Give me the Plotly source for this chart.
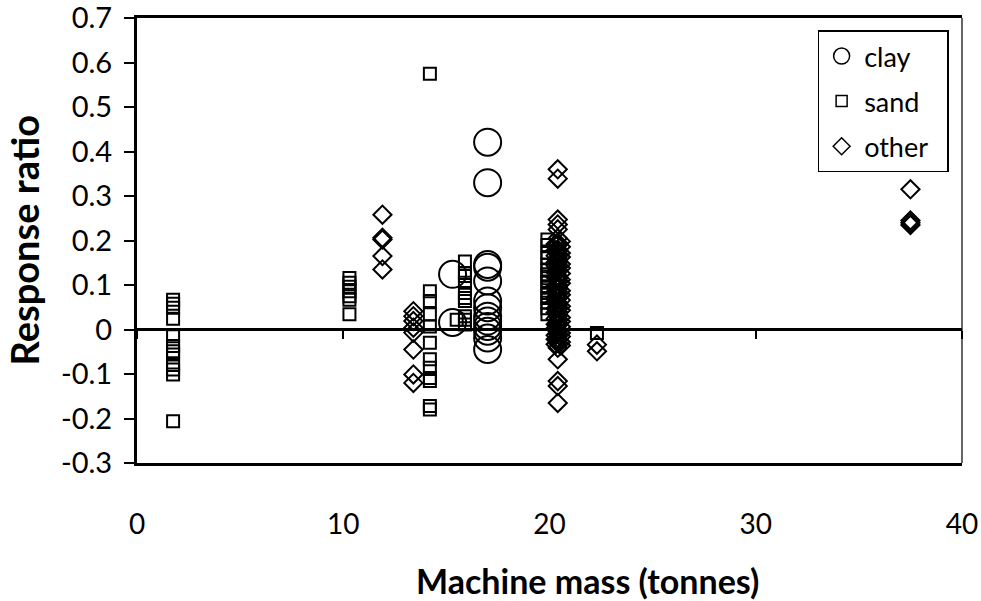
import plotly.graph_objects as go

# ---- data ----
clay_x = [15.3, 15.3] + [17.0] * 13
clay_y = [0.124, 0.016,
          0.421, 0.330, 0.146, 0.140, 0.109, 0.064, 0.049, 0.030, 0.019, 0.007, -0.004, -0.019, -0.045]

sand_x = ([1.75] * 12 + [10.3] * 7 + [14.2] * 12 + [15.5] + [15.9] * 10 + [19.9] * 15 + [22.3])
sand_y = ([0.067, 0.058, 0.049, 0.024, -0.015, -0.037, -0.049, -0.056, -0.080, -0.090, -0.101, -0.206]
          + [0.116, 0.105, 0.096, 0.086, 0.075, 0.067, 0.034]
          + [0.575, 0.086, 0.064, 0.034, 0.007, -0.030, -0.067, -0.086, -0.109, -0.116, -0.172, -0.180]
          + [0.022]
          + [0.153, 0.127, 0.120, 0.105, 0.082, 0.071, 0.064, 0.030, 0.022, 0.011]
          + [0.202, 0.190, 0.172, 0.160, 0.146, 0.135, 0.124, 0.115, 0.105, 0.094, 0.082, 0.071, 0.060, 0.048, 0.034]
          + [-0.008])

other_dense_a = [0.205, 0.195, 0.19, 0.18, 0.175, 0.17, 0.16, 0.155, 0.15, 0.14, 0.135, 0.13, 0.12,
                 0.115, 0.11, 0.10, 0.095, 0.09, 0.08, 0.075, 0.07, 0.06, 0.055, 0.05, 0.04, 0.035,
                 0.03, 0.02, 0.015, 0.01, 0.0, -0.005, -0.01, -0.02, -0.025, -0.03]
other_dense_b = [0.198, 0.186, 0.172, 0.163, 0.147, 0.138, 0.126, 0.112, 0.104, 0.087, 0.078,
                 0.066, 0.052, 0.043, 0.027, 0.018, 0.006, -0.008, -0.016, -0.028, -0.036]
other_dense_c = [0.192, 0.178, 0.166, 0.151, 0.143, 0.128, 0.117, 0.098, 0.085, 0.072, 0.063,
                 0.047, 0.038, 0.024, 0.012, 0.003, -0.013, -0.022, -0.033]
other_y = ([0.258, 0.206, 0.202, 0.165, 0.135]
           + [0.041, 0.030, 0.019, 0.004, -0.007, -0.045, -0.101, -0.120]
           + [0.360, 0.339, 0.247, 0.236, 0.225] + other_dense_a + [-0.041, -0.067, -0.116, -0.127, -0.165]
           + other_dense_b + other_dense_c
           + [-0.034, -0.049]
           + [0.315, 0.245, 0.240, 0.235])
other_x = ([11.9] * 5 + [13.4] * 8 + [20.4] * (5 + len(other_dense_a) + 5) + [20.55] * len(other_dense_b)
           + [20.3] * len(other_dense_c) + [22.3] * 2 + [37.5] * 4)

x_ticks = [0, 10, 20, 30, 40]
y_ticks = [-0.3, -0.2, -0.1, 0, 0.1, 0.2, 0.3, 0.4, 0.5, 0.6, 0.7]
y_tick_text = ["-0.3", "-0.2", "-0.1", "0", "0.1", "0.2", "0.3", "0.4", "0.5", "0.6", "0.7"]
legend_names = ["clay", "sand", "other"]

FONT = "Lato, sans-serif"

fig = go.Figure()

def mk(symbol, size):
    return dict(symbol=symbol, size=size, color="black",
                line=dict(color="black", width=2))

fig.add_trace(go.Scatter(x=clay_x, y=clay_y, mode="markers", marker=mk("circle-open", 27),
                         showlegend=False, cliponaxis=False))
fig.add_trace(go.Scatter(x=sand_x, y=sand_y, mode="markers", marker=mk("square-open", 12),
                         showlegend=False, cliponaxis=False))
fig.add_trace(go.Scatter(x=other_x, y=other_y, mode="markers", marker=mk("diamond-open", 14),
                         showlegend=False, cliponaxis=False))

# legend entries
for name, sym, sz in zip(legend_names, ["circle-open", "square-open", "diamond-open"], [16, 11, 13]):
    fig.add_trace(go.Scatter(x=[None], y=[None], mode="markers", name=name + "\u00a0\u00a0",
                             legendgroup=name,
                             marker=dict(symbol=sym, size=sz, color="black",
                                         line=dict(color="black", width=1.5))))

# helper trace for the secondary x axis (ticks on the zero line)
fig.add_trace(go.Scatter(x=[None], y=[None], xaxis="x2", showlegend=False, hoverinfo="skip"))

fig.update_layout(
    width=981, height=601,
    margin=dict(l=137, r=19, t=18, b=138),
    paper_bgcolor="white", plot_bgcolor="white",
    font=dict(family=FONT, color="black", size=24),
    xaxis=dict(range=[0, 40], tickvals=x_ticks, ticktext=[str(v) for v in x_ticks],
               showgrid=False, zeroline=False, showline=True, linecolor="black", linewidth=2.5,
               mirror=True, ticks="", ticklabelstandoff=35, ticklabeloverflow="allow",
               automargin=False, tickfont=dict(size=28, family=FONT)),
    xaxis2=dict(range=[0, 40], overlaying="x", anchor="free", position=0.3, side="bottom",
                tickvals=x_ticks, showticklabels=False, ticks="outside", ticklen=8, tickwidth=1.5,
                tickcolor="black", showgrid=False, zeroline=False, showline=False, automargin=False),
    yaxis=dict(range=[-0.3, 0.70001], tickvals=y_ticks, ticktext=y_tick_text,
               showgrid=False, zeroline=True, zerolinecolor="black", zerolinewidth=2.5,
               showline=True, linecolor="black", linewidth=3, ticks="outside", ticklen=10,
               tickwidth=2, tickcolor="black", ticklabelstandoff=6, ticklabeloverflow="allow",
               automargin=False, tickfont=dict(size=29, family=FONT)),
    legend=dict(x=0.825, y=0.972, xanchor="left", yanchor="top", bgcolor="white",
                bordercolor="black", borderwidth=1.5, font=dict(size=27, family=FONT),
                tracegroupgap=7, itemwidth=35),
    shapes=[dict(type="line", xref="paper", yref="paper", x0=1, x1=1, y0=0, y1=1,
                 line=dict(color="black", width=1.2))],
    annotations=[
        dict(text="<b>Response ratio</b>", xref="paper", yref="paper", x=-0.137, y=0.5,
             xanchor="center", yanchor="middle", textangle=-90, showarrow=False,
             font=dict(size=38, family=FONT)),
        dict(text="<b>Machine mass (tonnes)</b>", xref="paper", yref="paper", x=0.546, y=-0.265,
             xanchor="center", yanchor="middle", showarrow=False,
             font=dict(size=34, family=FONT)),
    ],
)

fig.write_html("out.html")
